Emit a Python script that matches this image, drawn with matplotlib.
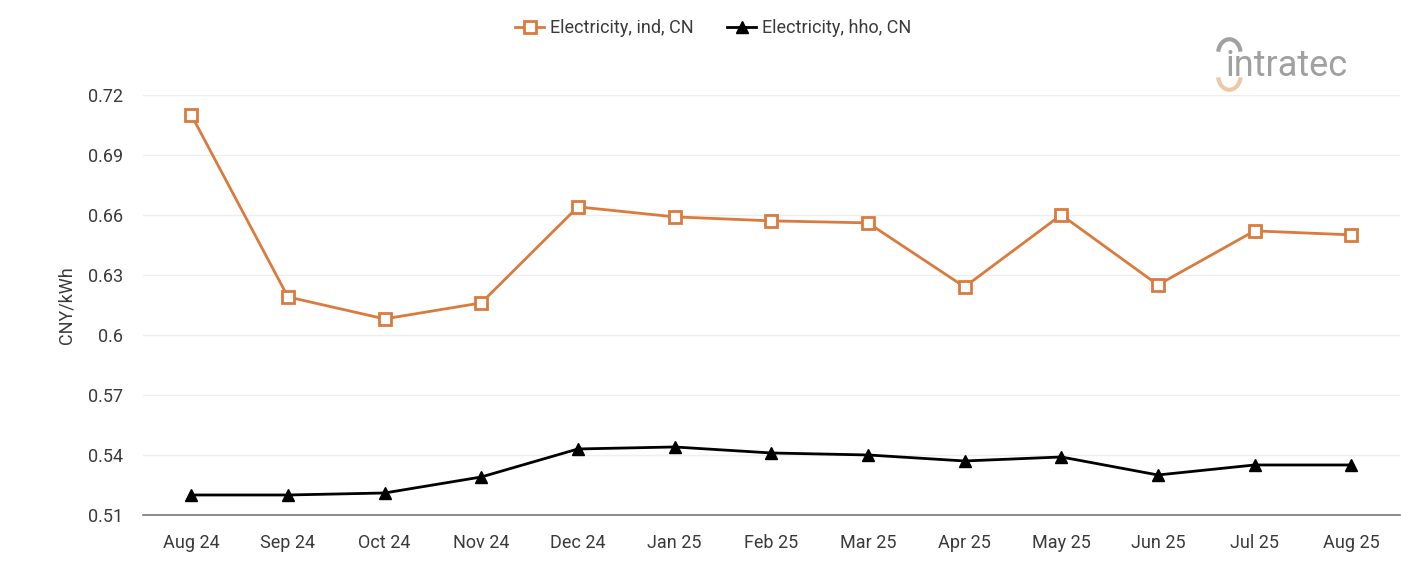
import matplotlib
matplotlib.use("Agg")
import matplotlib.pyplot as plt
from matplotlib.patches import Arc

plt.rcParams['font.family'] = ['Roboto', 'DejaVu Sans']

months = ["Aug 24", "Sep 24", "Oct 24", "Nov 24", "Dec 24", "Jan 25", "Feb 25",
          "Mar 25", "Apr 25", "May 25", "Jun 25", "Jul 25", "Aug 25"]
ind = [0.710, 0.619, 0.608, 0.616, 0.664, 0.659, 0.657, 0.656, 0.624, 0.660, 0.625, 0.652, 0.650]
hho = [0.520, 0.520, 0.521, 0.529, 0.543, 0.544, 0.541, 0.540, 0.537, 0.539, 0.530, 0.535, 0.535]
yticks = [0.51, 0.54, 0.57, 0.6, 0.63, 0.66, 0.69, 0.72]
ytick_labels = ["0.51", "0.54", "0.57", "0.6", "0.63", "0.66", "0.69", "0.72"]

orange = '#DA7A3D'
fig = plt.figure(figsize=(14.01, 5.61), dpi=100)
ax = fig.add_axes([0.102, 0.082, 0.897, 0.749])
x = list(range(len(months)))
ax.plot(x, ind, color=orange, lw=2, marker='s', ms=8, mfc='white', mec=orange, mew=2,
        label="Electricity, ind, CN", zorder=3)
ax.plot(x, hho, color='black', lw=2, marker='^', ms=9, mfc='black', mec='black',
        label="Electricity, hho, CN", zorder=3)
ax.set_xlim(-0.5, len(months) - 0.5)
ax.set_ylim(0.51, 0.72)
ax.set_yticks(yticks)
ax.set_yticklabels(ytick_labels)
ax.set_xticks(x)
ax.set_xticklabels(months)
ax.tick_params(axis='both', length=0, labelsize=13, colors='#3a3a3a')
ax.tick_params(axis='x', pad=14)
ax.tick_params(axis='y', pad=14)
ax.grid(axis='y', color='#eeeeee', lw=1)
ax.set_axisbelow(True)
for s in ['top', 'right', 'left']:
    ax.spines[s].set_visible(False)
ax.spines['bottom'].set_color('#777777')
ax.spines['bottom'].set_linewidth(1.2)
ax.set_ylabel("CNY/kWh", fontsize=13, color='#3a3a3a', labelpad=9)

fig.legend(loc='center', bbox_to_anchor=(0.509, 0.95), ncol=2, frameon=False,
           fontsize=13, handlelength=1.6, columnspacing=1.9, handletextpad=0.3,
           labelcolor='#3a3a3a')

fig.text(0.8745, 0.882, "intratec", fontsize=26, color='#a0a0a0', ha='left', va='center')
fig.add_artist(Arc((0.8775, 0.865), 0.016, 0.05, theta1=200, theta2=340,
                   transform=fig.transFigure, color='#EBC9A8', lw=3))
fig.add_artist(Arc((0.8775, 0.905), 0.016, 0.05, theta1=20, theta2=160,
                   transform=fig.transFigure, color='#a0a0a0', lw=3))

fig.savefig("out.png", dpi=100, facecolor='white')
